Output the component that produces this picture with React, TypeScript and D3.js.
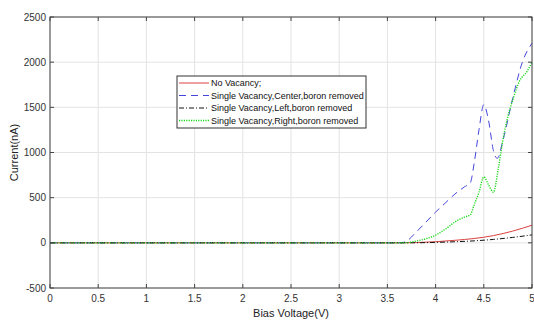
import React from "react";
import * as d3 from "d3";

const xTicks = [0, 0.5, 1, 1.5, 2, 2.5, 3, 3.5, 4, 4.5, 5];
const yTicks = [-500, 0, 500, 1000, 1500, 2000, 2500];

const noVacV = [0, 3.6, 3.8, 4.0, 4.2, 4.4, 4.6, 4.8, 5.0];
const noVacI = [0, 0, 3, 12, 28, 48, 80, 130, 195];

const centerV = [0, 3.6, 3.65, 3.7, 3.8, 3.9, 4.0, 4.1, 4.2, 4.3, 4.36, 4.4, 4.45, 4.5, 4.55, 4.6, 4.64, 4.7, 4.8, 4.9, 5.0];
const centerI = [0, 0, 2, 20, 120, 230, 340, 440, 540, 620, 665, 880, 1250, 1530, 1350, 1020, 935, 1140, 1600, 2000, 2210];

const leftV = [0, 3.6, 3.8, 4.0, 4.2, 4.4, 4.6, 4.8, 5.0];
const leftI = [0, 0, 1, 5, 12, 22, 38, 60, 88];

const rightV = [0, 3.6, 3.7, 3.8, 3.9, 4.0, 4.1, 4.2, 4.3, 4.36, 4.4, 4.45, 4.5, 4.55, 4.6, 4.65, 4.7, 4.75, 4.8, 4.87, 4.95, 5.0];
const rightI = [0, 0, 2, 20, 45, 85, 150, 230, 285, 310, 420, 560, 730, 640, 560, 820, 1150, 1400, 1580, 1790, 1900, 2000];

const legendLabels = [
  "No Vacancy;",
  "Single Vacancy,Center,boron removed",
  "Single Vacancy,Left,boron removed",
  "Single Vacancy,Right,boron removed",
];

const W = 534;
const H = 320;
const L = 50, R = 532, T = 17, B = 288;

export default function App() {
  const x = d3.scaleLinear().domain([0, 5]).range([L, R]);
  const y = d3.scaleLinear().domain([-500, 2500]).range([B, T]);
  const line = (vs: number[], is: number[]) =>
    d3.line<number>().x((_, i) => x(vs[i])).y((d) => y(d)).curve(d3.curveMonotoneX)(is) || "";

  const series = [
    { d: line(noVacV, noVacI), color: "#d9413f", dash: "", width: 1 },
    { d: line(centerV, centerI), color: "#4646dc", dash: "7,5", width: 1 },
    { d: line(leftV, leftI), color: "#111111", dash: "5,2,1,2", width: 1 },
    { d: line(rightV, rightI), color: "#1ed81e", dash: "1.2,1.2", width: 1.4 },
  ];

  const font = "'Liberation Sans', Arial, sans-serif";
  const legX = 177, legY = 76, legW = 189, legH = 52;

  return (
    <svg
      width={W}
      height={H}
      style={{ position: "absolute", left: 0, top: 0, background: "#fff" }}
      fontFamily={font}
    >
      <rect x={L} y={T} width={R - L} height={B - T} fill="#fff" />
      {xTicks.map((t) => (
        <line key={"gx" + t} x1={x(t)} x2={x(t)} y1={T} y2={B} stroke="#e3e3e3" strokeWidth={1} />
      ))}
      {yTicks.map((t) => (
        <line key={"gy" + t} x1={L} x2={R} y1={y(t)} y2={y(t)} stroke="#e3e3e3" strokeWidth={1} />
      ))}
      {series.map((s, i) => (
        <path key={i} d={s.d} fill="none" stroke={s.color} strokeWidth={s.width} strokeDasharray={s.dash || undefined} />
      ))}
      <rect x={L} y={T} width={R - L} height={B - T} fill="none" stroke="#444" strokeWidth={1} />
      {xTicks.map((t) => (
        <g key={"tx" + t}>
          <line x1={x(t)} x2={x(t)} y1={B} y2={B - 4} stroke="#444" />
          <line x1={x(t)} x2={x(t)} y1={T} y2={T + 4} stroke="#444" />
          <text x={x(t)} y={B + 14} textAnchor="middle" fontSize={10} fill="#333">{t}</text>
        </g>
      ))}
      {yTicks.map((t) => (
        <g key={"ty" + t}>
          <line x1={L} x2={L + 4} y1={y(t)} y2={y(t)} stroke="#444" />
          <line x1={R} x2={R - 4} y1={y(t)} y2={y(t)} stroke="#444" />
          <text x={L - 4} y={y(t) + 3.5} textAnchor="end" fontSize={10} fill="#333">{t}</text>
        </g>
      ))}
      <text x={(L + R) / 2} y={317} textAnchor="middle" fontSize={11} fill="#222">Bias Voltage(V)</text>
      <text transform={`translate(18,${(T + B) / 2}) rotate(-90)`} textAnchor="middle" fontSize={11} fill="#222">Current(nA)</text>
      <rect x={legX} y={legY} width={legW} height={legH} fill="#fff" stroke="#333" strokeWidth={1} />
      {legendLabels.map((lab, i) => {
        const ly = legY + 7 + i * 12.5;
        const s = series[i];
        return (
          <g key={lab}>
            <line x1={legX + 2} x2={legX + 32} y1={ly} y2={ly} stroke={s.color} strokeWidth={s.width} strokeDasharray={s.dash || undefined} />
            <text x={legX + 34} y={ly + 3.2} fontSize={9} fill="#111">{lab}</text>
          </g>
        );
      })}
    </svg>
  );
}
